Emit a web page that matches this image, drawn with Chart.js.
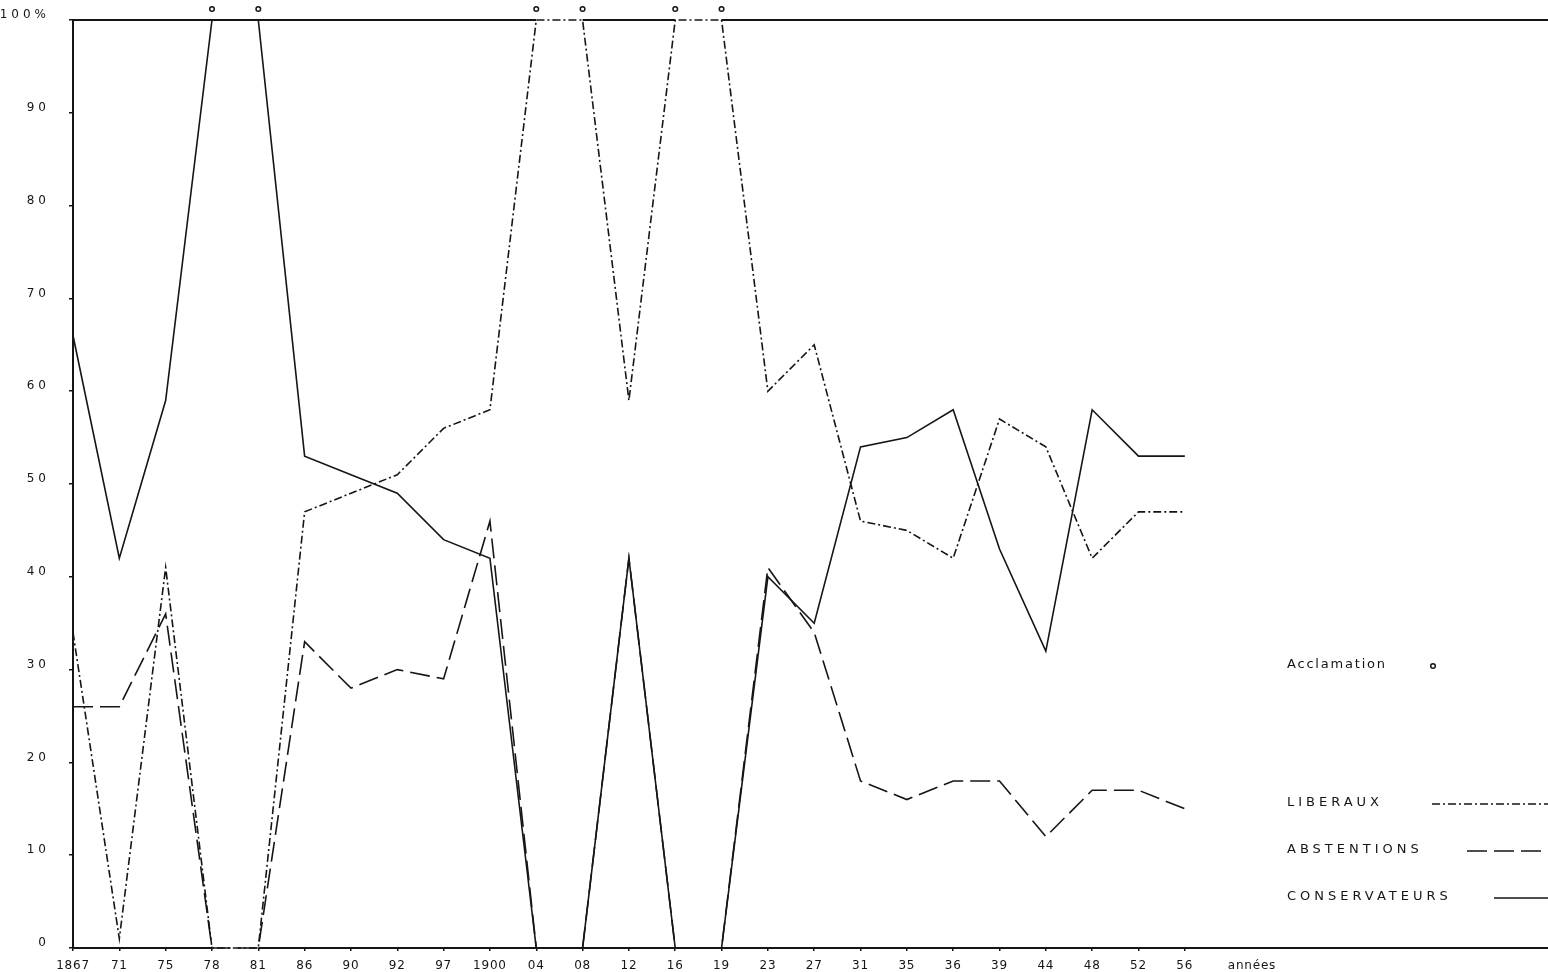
<!DOCTYPE html>
<html>
<head>
<meta charset="utf-8">
<script src="https://cdn.jsdelivr.net/npm/chart.js@4"></script>
<style>
html,body{margin:0;padding:0;background:#fff;overflow:hidden;}
#wrap{width:1548px;height:972px;position:relative;}
canvas{display:block;}
</style>
</head>
<body>
<div id="wrap"><canvas id="c" width="1548" height="972"></canvas></div>
<script>
// ---- data ----
const years = ['1867','71','75','78','81','86','90','92','97','1900','04','08','12','16','19','23','27','31','35','36','39','44','48','52','56'];
const xAxisTitle = 'années';
const liberaux      = [34, 1, 41,  0,  0, 47, 49, 51, 56, 58, 100, 100, 59, 100, 100, 60, 65, 46, 45, 42, 57, 54, 42, 47, 47];
const abstentions   = [26, 26, 36,  0,  0, 33, 28, 30, 29, 46,   0,   0, 42,   0,   0, 41, 34, 18, 16, 18, 18, 12, 17, 17, 15];
const conservateurs = [66, 42, 59, 100, 100, 53, 51, 49, 44, 42,  0,   0, 42,   0,   0, 40, 35, 54, 55, 58, 43, 32, 58, 53, 53];
const acclamation = ['78','81','04','08','16','19'];
const yTicks = [0,10,20,30,40,50,60,70,80,90,100];
const yTickLabels = ['0','10','20','30','40','50','60','70','80','90','100%'];
const legendAcclamation = 'Acclamation';
const seriesNames = ['LIBERAUX','ABSTENTIONS','CONSERVATEURS'];

// ---- style ----
const INK = '#151515';
const FONT = 'DejaVu Sans';
const toPts = arr => arr.map((v, i) => ({x: i, y: v}));

const decor = {
  id: 'decor',
  beforeDraw(chart) {
    [['x', '0.8px'], ['y', '4px']].forEach(([id, sp]) => {
      const s = chart.scales[id];
      if (!s || s._lsPatched) return;
      const orig = s.drawLabels.bind(s);
      s.drawLabels = function (area) {
        const c = this.ctx;
        c.save();
        c.letterSpacing = sp;
        orig(area);
        c.restore();
      };
      s._lsPatched = true;
    });
  },
  afterDatasetsDraw(chart) {
    const {ctx, chartArea: a, scales: {x, y}} = chart;
    ctx.save();
    ctx.strokeStyle = INK;
    ctx.fillStyle = INK;
    ctx.lineWidth = 2;
    // top (100%) and bottom (0) frame lines, left open where the liberal line lies on them
    const frame = (val) => {
      const py = y.getPixelForValue(val);
      let start = a.left;
      const segs = [];
      for (let i = 0; i < liberaux.length - 1; i++) {
        if (liberaux[i] === val && liberaux[i + 1] === val) {
          segs.push([start, x.getPixelForValue(i)]);
          start = x.getPixelForValue(i + 1);
        }
      }
      segs.push([start, a.right]);
      ctx.beginPath();
      segs.forEach(([s, e]) => { ctx.moveTo(s, py); ctx.lineTo(e, py); });
      ctx.stroke();
    };
    frame(100);
    frame(0);

    // acclamation markers
    ctx.lineWidth = 1.5;
    acclamation.forEach(yr => {
      const i = years.indexOf(yr);
      const px = x.getPixelForValue(i);
      ctx.beginPath();
      ctx.arc(px, a.top - 11, 2.3, 0, Math.PI * 2);
      ctx.stroke();
    });

    // legend
    ctx.textBaseline = 'middle';
    ctx.textAlign = 'left';
    ctx.font = '13px "' + FONT + '"';
    ctx.letterSpacing = '1.8px';
    ctx.fillText(legendAcclamation, 1287, 665);
    ctx.beginPath();
    ctx.arc(1433, 666, 2.3, 0, Math.PI * 2);
    ctx.stroke();

    ctx.letterSpacing = '4px';
    const rows = [
      {y: 803, x0: 1432},
      {y: 850, x0: 1467},
      {y: 897, x0: 1494}
    ];
    chart.data.datasets.forEach((ds, k) => {
      const r = rows[k];
      ctx.fillText(ds.label, 1287, r.y);
      ctx.save();
      ctx.lineWidth = ds.borderWidth;
      ctx.setLineDash(ds.borderDash || []);
      ctx.beginPath();
      ctx.moveTo(r.x0, r.y + 1);
      ctx.lineTo(a.right, r.y + 1);
      ctx.stroke();
      ctx.restore();
    });
    ctx.restore();
  }
};

const common = {borderColor: INK, borderWidth: 1.6, pointRadius: 0, tension: 0, fill: false, clip: 6};

new Chart(document.getElementById('c'), {
  type: 'line',
  data: {
    datasets: [
      Object.assign({label: seriesNames[0], data: toPts(liberaux), borderDash: [8, 3, 2, 3]}, common),
      Object.assign({label: seriesNames[1], data: toPts(abstentions), borderDash: [20, 7]}, common),
      Object.assign({label: seriesNames[2], data: toPts(conservateurs), borderDash: []}, common)
    ]
  },
  options: {
    responsive: false,
    animation: false,
    devicePixelRatio: 1,
    layout: {padding: {top: 20, right: 0, bottom: 0, left: 0}},
    plugins: {legend: {display: false}, tooltip: {enabled: false}},
    scales: {
      x: {
        type: 'linear',
        min: 0,
        max: 31.84,
        afterBuildTicks: s => { s.ticks = years.map((_, i) => ({value: i})).concat([{value: years.length + 0.45}]); },
        afterFit: s => { s.height = 24; s.paddingLeft = 0; s.paddingRight = 0; },
        border: {display: false},
        grid: {
          drawOnChartArea: false,
          drawTicks: true,
          tickLength: 3,
          lineWidth: 1.5,
          tickColor: c => (c.tick && Number.isInteger(c.tick.value)) ? INK : 'rgba(0,0,0,0)'
        },
        ticks: {
          autoSkip: false,
          maxRotation: 0,
          minRotation: 0,
          padding: 8,
          color: INK,
          font: {family: FONT, size: 12},
          callback: v => Number.isInteger(v) ? years[v] : xAxisTitle
        }
      },
      y: {
        min: 0,
        max: 100,
        afterBuildTicks: s => { s.ticks = yTicks.map(v => ({value: v})); },
        afterFit: s => { s.width = 73; s.paddingTop = 0; s.paddingBottom = 0; },
        border: {display: true, color: INK, width: 2},
        grid: {drawOnChartArea: false, drawTicks: true, tickLength: 4, tickColor: INK, lineWidth: 1.5},
        ticks: {
          padding: 19,
          labelOffset: -5,
          color: INK,
          font: {family: FONT, size: 12},
          callback: (v, i) => yTickLabels[i]
        }
      }
    }
  },
  plugins: [decor]
});
</script>
</body>
</html>
